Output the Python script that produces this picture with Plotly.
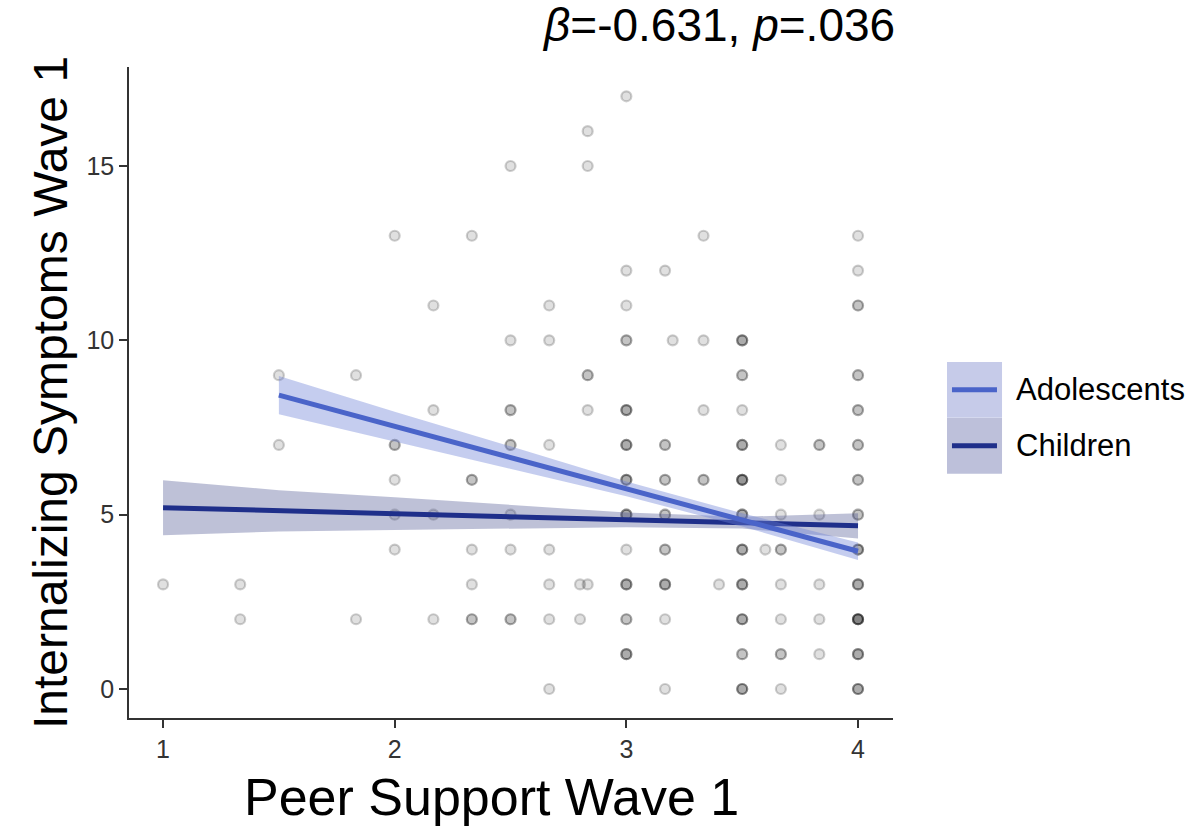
import numpy as np
import plotly.graph_objects as go

# scatter observations: peer support (x), internalizing symptoms (y), number of overlapping cases
pt_x = [3.0,
        2.833,
        2.5, 2.833,
        2.0, 2.333, 3.333, 4.0,
        3.0, 3.167, 4.0,
        2.167, 2.667, 3.0, 4.0,
        2.5, 2.667, 3.0, 3.2, 3.333, 3.5,
        1.5, 1.833, 2.833, 3.5, 4.0,
        2.167, 2.5, 2.833, 3.0, 3.333, 3.5, 4.0,
        1.5, 2.0, 2.5, 2.667, 3.0, 3.167, 3.5, 3.667, 3.833, 4.0,
        2.0, 2.333, 3.0, 3.167, 3.333, 3.5, 3.667, 4.0,
        2.0, 2.167, 2.5, 3.0, 3.167, 3.5, 3.667, 3.833, 4.0,
        2.0, 2.333, 2.5, 2.667, 3.0, 3.167, 3.5, 3.6, 3.667, 4.0,
        1.0, 1.333, 2.333, 2.667, 2.8, 2.833, 3.0, 3.167, 3.4, 3.5, 3.667, 3.833, 4.0,
        1.333, 1.833, 2.167, 2.333, 2.5, 2.667, 2.8, 3.0, 3.167, 3.5, 3.667, 3.833, 4.0,
        3.0, 3.5, 3.667, 3.833, 4.0,
        2.667, 3.167, 3.5, 3.667, 4.0]
pt_y = [17,
        16,
        15, 15,
        13, 13, 13, 13,
        12, 12, 12,
        11, 11, 11, 11,
        10, 10, 10, 10, 10, 10,
        9, 9, 9, 9, 9,
        8, 8, 8, 8, 8, 8, 8,
        7, 7, 7, 7, 7, 7, 7, 7, 7, 7,
        6, 6, 6, 6, 6, 6, 6, 6,
        5, 5, 5, 5, 5, 5, 5, 5, 5,
        4, 4, 4, 4, 4, 4, 4, 4, 4, 4,
        3, 3, 3, 3, 3, 3, 3, 3, 3, 3, 3, 3, 3,
        2, 2, 2, 2, 2, 2, 2, 2, 2, 2, 2, 2, 2,
        1, 1, 1, 1, 1,
        0, 0, 0, 0, 0]
pt_n = [1,
        1,
        1, 1,
        1, 1, 1, 1,
        1, 1, 1,
        1, 1, 1, 2,
        1, 1, 2, 1, 1, 3,
        1, 1, 2, 2, 2,
        1, 2, 1, 3, 1, 1, 2,
        1, 2, 2, 1, 3, 2, 3, 1, 2, 2,
        1, 2, 3, 2, 2, 4, 1, 2,
        1, 1, 1, 3, 2, 3, 1, 1, 2,
        1, 1, 1, 1, 1, 2, 3, 1, 2, 3,
        1, 1, 1, 1, 1, 1, 3, 3, 1, 3, 1, 1, 3,
        1, 1, 1, 2, 2, 1, 1, 2, 1, 3, 1, 1, 5,
        3, 2, 2, 1, 3,
        1, 1, 3, 1, 3]

# fitted lines with 95% confidence bands
ado_x = [1.5, 2.0, 2.5, 3.0, 3.5, 4.0]
ado_fit = [8.43, 7.53, 6.64, 5.74, 4.85, 3.95]
ado_lo = [7.88, 7.11, 6.32, 5.53, 4.66, 3.70]
ado_hi = [8.98, 7.95, 6.96, 5.95, 5.04, 4.20]

chi_x = [1.0, 1.5, 2.0, 2.5, 3.0, 3.5, 4.0]
chi_fit = [5.20, 5.11, 5.03, 4.94, 4.85, 4.77, 4.68]
chi_lo = [4.41, 4.52, 4.56, 4.60, 4.64, 4.60, 4.32]
chi_hi = [5.99, 5.70, 5.50, 5.29, 5.06, 4.94, 5.04]

groups = ["Adolescents", "Children"]
line_col = {"Adolescents": "#4a64c9", "Children": "#1f2f8a"}
band_col = {"Adolescents": "rgba(110,130,215,0.40)", "Children": "rgba(70,78,140,0.35)"}
key_col = {"Adolescents": "#c6cbe9", "Children": "#bdc0da"}

FONT = "Liberation Sans"

fig = go.Figure()

# points: overlapping cases drawn on top of each other so they darken
reps = np.array(pt_n)
fig.add_trace(go.Scatter(
    x=np.repeat(pt_x, reps), y=np.repeat(pt_y, reps),
    mode="markers",
    marker=dict(size=10, color="rgba(0,0,0,0.12)",
                line=dict(color="rgba(0,0,0,0.19)", width=2.2)),
    showlegend=False, hoverinfo="x+y"
))


def band(xs, lo, hi, fit, name):
    xs = list(xs)
    fig.add_trace(go.Scatter(
        x=xs + xs[::-1], y=list(hi) + list(lo)[::-1],
        fill="toself", fillcolor=band_col[name], line=dict(width=0),
        mode="lines", showlegend=False, hoverinfo="skip"
    ))
    fig.add_trace(go.Scatter(
        x=xs, y=fit, mode="lines", name=name,
        line=dict(color=line_col[name], width=5),
        showlegend=False
    ))


band(chi_x, chi_lo, chi_hi, chi_fit, "Children")
band(ado_x, ado_lo, ado_hi, ado_fit, "Adolescents")

fig.update_xaxes(
    range=[0.853, 4.151], tickvals=[1, 2, 3, 4],
    showline=True, linecolor="#333", linewidth=1.5,
    ticks="outside", ticklen=8, tickcolor="#333", tickwidth=1.5,
    showgrid=False, zeroline=False, automargin=False,
    tickfont=dict(family=FONT, size=25, color="#333"),
)
fig.update_yaxes(
    range=[-0.832, 17.84], tickvals=[0, 5, 10, 15],
    showline=True, linecolor="#333", linewidth=1.5,
    ticks="outside", ticklen=8, tickcolor="#333", tickwidth=1.5,
    showgrid=False, zeroline=False, automargin=False,
    tickfont=dict(family=FONT, size=25, color="#333"),
    title=dict(text="Internalizing Symptoms Wave 1", standoff=4,
               font=dict(family=FONT, size=48, color="#000"))
)

# legend drawn by hand: ggplot-style keys with the band colour behind the line
shapes = []
annotations = []
key_top = [0.5469, 0.4608]
key_h = 0.0855
for g, top in zip(groups, key_top):
    shapes.append(dict(type="rect", xref="paper", yref="paper",
                       x0=1.0707, x1=1.1427, y0=top - key_h, y1=top,
                       fillcolor=key_col[g], line=dict(width=0), layer="below"))
    shapes.append(dict(type="line", xref="paper", yref="paper",
                       x0=1.0772, x1=1.1361, y0=top - key_h / 2, y1=top - key_h / 2,
                       line=dict(color=line_col[g], width=5)))
    annotations.append(dict(xref="paper", yref="paper", x=1.159, y=top - key_h / 2,
                            text=g, showarrow=False, xanchor="left", yanchor="middle",
                            font=dict(family=FONT, size=31, color="#000")))

annotations.append(dict(xref="paper", yref="paper", x=0.772, y=1.064,
                        text="<i>β</i>=-0.631, <i>p</i>=.036", showarrow=False,
                        xanchor="center", yanchor="middle",
                        font=dict(family=FONT, size=46, color="#000")))
# x-axis title
annotations.append(dict(xref="paper", yref="paper", x=0.475, y=-0.121,
                        text="Peer Support Wave 1", showarrow=False,
                        xanchor="center", yanchor="middle",
                        font=dict(family=FONT, size=52, color="#000")))

fig.update_layout(
    width=1200, height=834,
    margin=dict(l=129, r=307, t=67, b=116),
    plot_bgcolor="white", paper_bgcolor="white",
    shapes=shapes, annotations=annotations,
    showlegend=False,
    font=dict(family=FONT)
)

# drop the page's default 8px body margin so the figure sits at the window corner
fig.write_html("out.html", config={"displayModeBar": False},
               post_script="document.body.style.margin='0';")
